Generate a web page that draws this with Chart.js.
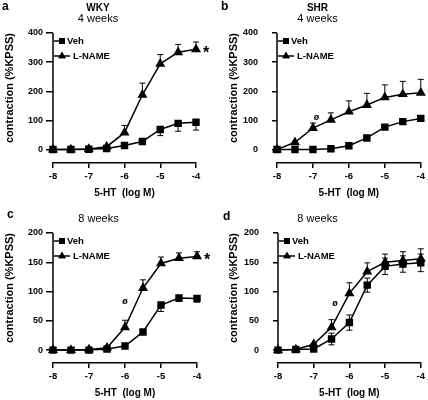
<!DOCTYPE html>
<html>
<head>
<meta charset="utf-8">
<script src="https://cdn.jsdelivr.net/npm/chart.js@4.4.0/dist/chart.umd.min.js"></script>
<style>
  body { margin: 0; background: #fff; }
  #wrap { position: relative; width: 428px; height: 400px; }
  canvas { position: absolute; }
</style>
</head>
<body>
<div id="wrap">
  <canvas id="pa" width="214" height="200" style="left:0;top:0"></canvas>
  <canvas id="pb" width="214" height="200" style="left:214px;top:0"></canvas>
  <canvas id="pc" width="214" height="200" style="left:0;top:200px"></canvas>
  <canvas id="pd" width="214" height="200" style="left:214px;top:200px"></canvas>
</div>
<script>
// 5-HT dose, log M
const doses = [-8, -7.5, -7, -6.5, -6, -5.5, -5, -4.5, -4];
const xTicks = [-8, -7, -6, -5, -4];
const yTicks400 = [0, 100, 200, 300, 400];
const yTicks200 = [0, 50, 100, 150, 200];

// a: WKY 4 weeks
const wkyVeh4 = [0, 0, 1, 4, 14, 28, 69, 90, 94];
const wkyVeh4Err = [0, 0, 0, 0, 2, 4, 21, 27, 27];
const wkyLname4 = [0, 0, 2, 10, 58, 188, 294, 334, 344];
const wkyLname4Err = [0, 0, 0, 3, 25, 40, 32, 27, 25];

// b: SHR 4 weeks
const shrVeh4 = [0, 0, 0, 3, 13, 40, 77, 96, 107];
const shrVeh4Err = [0, 0, 0, 0, 1, 2, 3, 3, 3];
const shrLname4 = [0, 25, 74, 102, 130, 153, 179, 190, 195];
const shrLname4Err = [0, 3, 17, 24, 37, 40, 43, 44, 46];
const shrPhi4 = [-6.9, 110];

// c: WKY 8 weeks
const wkyVeh8 = [0, 0, 0, 2, 7, 31, 77, 89, 88];
const wkyVeh8Err = [0, 0, 0, 0, 1, 3, 11, 6, 6];
const wkyLname8 = [0, 0, 1, 4, 39, 106, 148, 157, 160];
const wkyLname8Err = [0, 0, 0, 1, 12, 14, 11, 9, 8];
const wkyPhi8 = [-6, 83];

// d: SHR 8 weeks
const shrVeh8 = [0, 1, 2, 19, 47, 111, 143, 147, 149];
const shrVeh8Err = [0, 0, 1, 10, 13, 12, 14, 14, 15];
const shrLname8 = [0, 1, 10, 39, 97, 134, 150, 153, 156];
const shrLname8Err = [0, 0, 1, 13, 18, 15, 14, 15, 17];
const shrPhi8 = [-6.4, 80];

Chart.defaults.font.family = 'Liberation Sans';
Chart.defaults.color = '#000';

const bold = (size) => ({ family: 'Liberation Sans', size: size, weight: 'bold' });

// error bars, y axis line, legend, panel letter, star and phi marks
const extras = {
    id: 'extras',
    beforeDatasetsDraw(chart) {
        const ctx = chart.ctx;
        const y = chart.scales.y;
        const area = chart.chartArea;
        const o = chart.options.plugins.extras;
        ctx.save();
        ctx.strokeStyle = '#000';
        ctx.lineWidth = 1.5;
        ctx.beginPath();
        ctx.moveTo(area.left, y.getPixelForValue(o.yMax));
        ctx.lineTo(area.left, y.getPixelForValue(0) + 1);
        ctx.stroke();

        ctx.lineWidth = 1;
        chart.data.datasets.forEach((ds, i) => {
            const meta = chart.getDatasetMeta(i);
            ds.err.forEach((e, j) => {
                if (!e) return;
                const px = meta.data[j].x;
                const v = ds.data[j].y;
                const ends = [];
                if (ds.errDir !== 'down') ends.push(v + e);
                if (ds.errDir !== 'up') ends.push(v - e);
                ends.forEach(t => {
                    const py = y.getPixelForValue(t);
                    ctx.beginPath();
                    ctx.moveTo(px, y.getPixelForValue(v));
                    ctx.lineTo(px, py);
                    ctx.moveTo(px - 3, py);
                    ctx.lineTo(px + 3, py);
                    ctx.stroke();
                });
            });
        });
        ctx.restore();
    },
    afterDraw(chart) {
        const ctx = chart.ctx;
        const x = chart.scales.x;
        const y = chart.scales.y;
        const area = chart.chartArea;
        const o = chart.options.plugins.extras;
        ctx.save();
        ctx.fillStyle = '#000';
        ctx.strokeStyle = '#000';

        // legend
        const x0 = area.left + 1;
        chart.data.datasets.forEach((ds, i) => {
            const ly = area.top + 8 + i * 15;
            const lineEnd = i === 0 ? x0 + 8 : x0 + 16;
            ctx.lineWidth = 1.5;
            ctx.beginPath();
            ctx.moveTo(x0, ly);
            ctx.lineTo(lineEnd, ly);
            ctx.stroke();
            Chart.helpers.drawPoint(ctx, {
                pointStyle: ds.pointStyle, radius: ds.pointRadius, borderWidth: 0
            }, x0 + 8, ly);
            ctx.fill();
            ctx.font = 'bold 9.5px "Liberation Sans"';
            ctx.textBaseline = 'middle';
            ctx.textAlign = 'left';
            ctx.fillText(ds.label, i === 0 ? x0 + 13 : x0 + 19, ly + 0.5);
        });

        // panel letter
        ctx.font = 'bold 12px "Liberation Sans"';
        ctx.textBaseline = 'alphabetic';
        ctx.fillText(o.letter, o.letterPos[0], o.letterPos[1]);

        // significance marks
        if (o.star) {
            const last = chart.data.datasets[1].data[doses.length - 1];
            ctx.font = 'bold 16px "Liberation Sans"';
            ctx.textBaseline = 'middle';
            ctx.fillText('*', x.getPixelForValue(last.x) + 7, y.getPixelForValue(last.y) + 4);
        }
        if (o.phi) {
            ctx.font = 'bold 9px "Liberation Sans"';
            ctx.textAlign = 'center';
            ctx.textBaseline = 'middle';
            ctx.fillText('ø', x.getPixelForValue(o.phi[0]), y.getPixelForValue(o.phi[1]));
        }
        ctx.restore();
    }
};

const toPoints = (vals) => doses.map((d, i) => ({ x: d, y: vals[i] }));

const drawPanel = (id, p) => {
    new Chart(document.getElementById(id), {
        type: 'line',
        data: {
            datasets: [{
                label: 'Veh',
                data: toPoints(p.veh),
                err: p.vehErr,
                errDir: p.vehDir,
                pointStyle: 'rect',
                pointRadius: 4.2,
                borderColor: '#000',
                backgroundColor: '#000',
                borderWidth: 1.5,
                clip: false
            }, {
                label: 'L-NAME',
                data: toPoints(p.lname),
                err: p.lnameErr,
                errDir: 'up',
                pointStyle: 'triangle',
                pointRadius: 4.3,
                borderColor: '#000',
                backgroundColor: '#000',
                borderWidth: 1.5,
                clip: false
            }]
        },
        options: {
            responsive: false,
            animation: false,
            layout: { padding: { left: 0, right: p.padRight, top: 0, bottom: 0 } },
            plugins: {
                legend: { display: false },
                tooltip: { enabled: false },
                title: {
                    display: true,
                    text: p.title,
                    font: { size: 10, weight: 'bold', lineHeight: 1 },
                    padding: { top: 3, bottom: 0 }
                },
                subtitle: {
                    display: true,
                    text: p.sub,
                    font: { size: 11, lineHeight: 1 },
                    padding: { top: 0, bottom: 9 }
                },
                extras: {
                    letter: p.letter,
                    letterPos: p.letterPos,
                    yMax: p.yTicks[p.yTicks.length - 1],
                    star: p.star,
                    phi: p.phi
                }
            },
            scales: {
                x: {
                    type: 'linear',
                    min: -8,
                    max: -4,
                    afterBuildTicks: s => { s.ticks = xTicks.map(v => ({ value: v })); },
                    afterFit: s => { s.height = 37; },
                    grid: { drawOnChartArea: false, tickLength: 5, color: '#000', lineWidth: 1.5 },
                    border: { display: true, color: '#000', width: 1.5 },
                    ticks: { font: bold(9.5), padding: 3, maxRotation: 0 },
                    title: {
                        display: true,
                        text: '5-HT  (log M)',
                        font: bold(10),
                        padding: { top: 1, bottom: 1 }
                    }
                },
                y: {
                    type: 'linear',
                    min: p.yMin,
                    max: p.yTicks[p.yTicks.length - 1],
                    afterBuildTicks: s => { s.ticks = p.yTicks.map(v => ({ value: v })); },
                    afterFit: s => { s.width = p.axisLeft; },
                    grid: { drawOnChartArea: false, tickLength: p.tickLen, color: '#000', lineWidth: 1.5 },
                    border: { display: false },
                    ticks: { font: bold(9), padding: p.tickPad },
                    title: {
                        display: true,
                        text: 'contraction (%KPSS)',
                        align: 'end',
                        font: bold(11),
                        padding: { top: p.titlePad, bottom: 0 }
                    }
                }
            }
        },
        plugins: [extras]
    });
};

drawPanel('pa', {
    letter: 'a', letterPos: [2, 10], title: 'WKY', sub: '4 weeks',
    yTicks: yTicks400, yMin: -46,
    veh: wkyVeh4, vehErr: wkyVeh4Err, vehDir: 'down',
    lname: wkyLname4, lnameErr: wkyLname4Err, star: true, phi: null,
    axisLeft: 53, tickLen: 7, tickPad: 3, titlePad: 3, padRight: 18
});
drawPanel('pb', {
    letter: 'b', letterPos: [7, 10], title: 'SHR', sub: '4 weeks',
    yTicks: yTicks400, yMin: -46,
    veh: shrVeh4, vehErr: shrVeh4Err, vehDir: 'down',
    lname: shrLname4, lnameErr: shrLname4Err, star: false, phi: shrPhi4,
    axisLeft: 63, tickLen: 5, tickPad: 14, titlePad: 13, padRight: 7
});
drawPanel('pc', {
    letter: 'c', letterPos: [7, 18], title: '', sub: '8 weeks',
    yTicks: yTicks200, yMin: -22,
    veh: wkyVeh8, vehErr: wkyVeh8Err, vehDir: 'down',
    lname: wkyLname8, lnameErr: wkyLname8Err, star: true, phi: wkyPhi8,
    axisLeft: 53, tickLen: 7, tickPad: 3, titlePad: 3, padRight: 17
});
drawPanel('pd', {
    letter: 'd', letterPos: [9, 20], title: '', sub: '8 weeks',
    yTicks: yTicks200, yMin: -22,
    veh: shrVeh8, vehErr: shrVeh8Err, vehDir: 'both',
    lname: shrLname8, lnameErr: shrLname8Err, star: false, phi: shrPhi8,
    axisLeft: 64, tickLen: 5, tickPad: 14, titlePad: 13, padRight: 7
});
</script>
</body>
</html>
